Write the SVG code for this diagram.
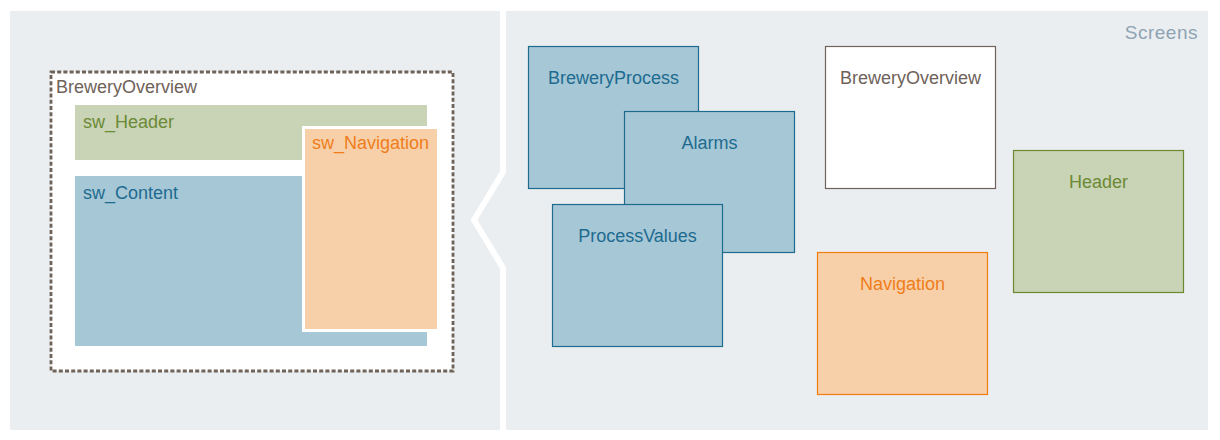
<svg xmlns="http://www.w3.org/2000/svg" width="1220" height="440" viewBox="0 0 1220 440">
<style>
text{font-family:"Liberation Sans",Arial,sans-serif;font-size:18px}
.blue rect{fill:#a6c7d6;stroke:#1d6b8f;stroke-width:1.2}
.blue text{fill:#1d6b8f;text-anchor:middle}
.c{text-anchor:middle}
</style>
<rect x="0" y="0" width="1220" height="440" fill="#ffffff"/>
<rect x="10" y="11" width="1198" height="419" fill="#eaeef1"/>
<polyline points="503,8 503,172 474,220 503,268 503,433" fill="none" stroke="#ffffff" stroke-width="6"/>
<text x="1198" y="38.5" fill="#8fa3b3" text-anchor="end" style="font-size:19px;letter-spacing:0.5px">Screens</text>
<g id="BreweryOverviewLayout">
<rect x="51" y="72" width="402" height="299" fill="#ffffff" stroke="#6e6259" stroke-width="2.8" stroke-dasharray="4,2.2"/>
<text x="56" y="93" fill="#6e6259">BreweryOverview</text>
</g>
<g id="sw_Header">
<rect x="75" y="105" width="352" height="55" fill="#c9d3b5"/>
<text x="83" y="128" fill="#6b8a35">sw_Header</text>
</g>
<g id="sw_Content">
<rect x="75" y="176" width="352" height="170" fill="#a6c7d6"/>
<text x="83" y="199" fill="#1d6b8f">sw_Content</text>
</g>
<g id="sw_Navigation">
<rect x="303.5" y="127.5" width="135" height="203" fill="#f7d0a9" stroke="#ffffff" stroke-width="3"/>
<text x="312" y="149" fill="#ef7d1b">sw_Navigation</text>
</g>
<g id="BreweryProcess" class="blue">
<rect x="528.5" y="46.5" width="170" height="142"/>
<text x="613.5" y="84">BreweryProcess</text>
</g>
<g id="Alarms" class="blue">
<rect x="624.5" y="111.5" width="170" height="141"/>
<text x="709.5" y="149">Alarms</text>
</g>
<g id="ProcessValues" class="blue">
<rect x="552.5" y="204.5" width="170" height="142"/>
<text x="637.5" y="242">ProcessValues</text>
</g>
<g id="BreweryOverview">
<rect x="825.5" y="46.5" width="170" height="142" fill="#ffffff" stroke="#6e6259" stroke-width="1.2"/>
<text x="910.5" y="84" fill="#6e6259" class="c">BreweryOverview</text>
</g>
<g id="Header">
<rect x="1013.5" y="150.5" width="170" height="142" fill="#c9d3b5" stroke="#6b8a2f" stroke-width="1.2"/>
<text x="1098.5" y="188" fill="#6b8a35" class="c">Header</text>
</g>
<g id="Navigation">
<rect x="817.5" y="252.5" width="170" height="142" fill="#f7d0a9" stroke="#ef7d0f" stroke-width="1.2"/>
<text x="902.5" y="290" fill="#ef7d1b" class="c">Navigation</text>
</g>
<g id="connectors"/>
</svg>
